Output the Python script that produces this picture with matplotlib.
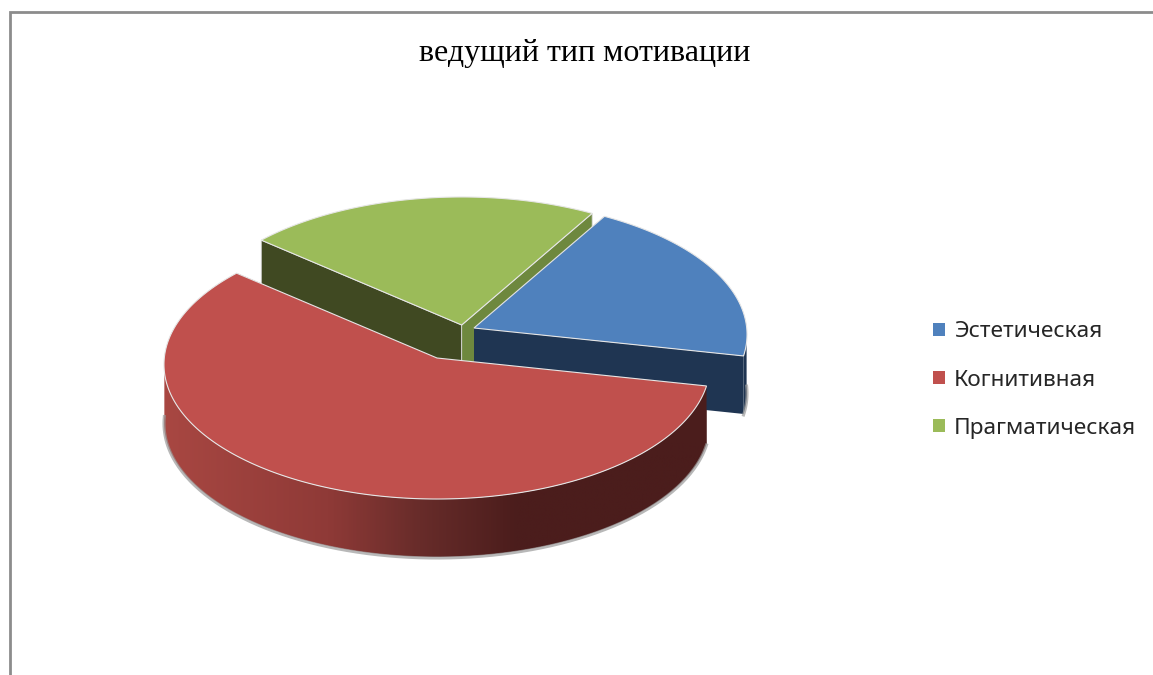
import matplotlib
matplotlib.use('Agg')
import matplotlib.pyplot as plt
from matplotlib.colors import LinearSegmentedColormap
from matplotlib.patches import Patch, Polygon
import numpy as np

title = 'ведущий тип мотивации'
categories = ['Эстетическая', 'Когнитивная', 'Прагматическая']
values = [20, 58, 22]

top_colors = ['#4F81BD', '#C0504D', '#9BBB59']
start_face_colors = ['#1F3552', '#4B1D1C', '#404922']
end_face_colors = ['#1F3552', '#4B1D1C', '#6E883E']

# where each exploded slice has its apex, in pixels
apex_x = [474, 437, 461.7]
apex_y = [328, 358, 325]
draw_order = [2, 0, 1]

start_angle = 60.1
depth = 58
rx = 272.7
ry = 134.2
persp = 0.0483


def project(angles, cx, cy):
    # circle seen in perspective, so the back of the pie comes out flatter
    t = np.radians(angles)
    w = 1 + persp * np.sin(t)
    return cx + rx * np.cos(t) / w, cy - ry * np.sin(t) / w


def draw_slice(ax, i, a_start, a_end):
    cx, cy = apex_x[i], apex_y[i]
    angles = np.linspace(a_start, a_end, 300)
    xs, ys = project(angles, cx, cy)

    # only the green slice shows a light line between its two cut faces
    face_edge = '#d8d8d8' if i == 2 else 'none'
    for px, py, col in [(xs[0], ys[0], start_face_colors[i]), (xs[-1], ys[-1], end_face_colors[i])]:
        ax.add_patch(Polygon([(cx, cy), (px, py), (px, py + depth), (cx, cy + depth)],
                             closed=True, facecolor=col, edgecolor=face_edge, lw=0.6))

    front = np.sin(np.radians(angles)) <= 0.01
    if front.any():
        rim_x, rim_y = xs[front], ys[front]
        pts = np.vstack([np.column_stack([rim_x, rim_y]),
                         np.column_stack([rim_x[::-1], rim_y[::-1] + depth])])
        ax.plot(rim_x, rim_y + depth + 1, color='#9a9a9a', lw=2.2, alpha=0.7)
        rim = Polygon(pts, closed=True, facecolor='none', edgecolor='none')
        ax.add_patch(rim)
        if i == 1:
            grad = LinearSegmentedColormap.from_list(
                'rim', [(0, '#A84742'), (0.3, '#8F3A37'), (0.47, '#682C2A'), (0.65, '#4B1D1C'), (1, '#4B1D1C')])
            im = ax.imshow(np.linspace(0, 1, 400).reshape(1, -1), cmap=grad, aspect='auto',
                           extent=(rim_x.min(), rim_x.max(), rim_y.max() + depth, rim_y.min()))
            im.set_clip_path(rim)
        else:
            rim.set_facecolor(start_face_colors[i])

    top = np.vstack([[(cx, cy)], np.column_stack([xs, ys])])
    ax.add_patch(Polygon(top, closed=True, facecolor=top_colors[i], edgecolor='#e6e6e6', lw=0.8))


fig = plt.figure(figsize=(11.53, 6.75), dpi=100)
ax = fig.add_axes([0, 0, 1, 1])

sweeps = np.array(values) / sum(values) * 360
ends = start_angle - np.cumsum(sweeps)
starts = ends + sweeps
for i in draw_order:
    draw_slice(ax, i, starts[i], ends[i])

# chart area border, only the top and left show in the crop
ax.plot([9.5, 9.5, 1153], [675, 11.5, 11.5], color='#8C8C8C', lw=2, solid_joinstyle='miter')

ax.text(585, 54, title, family='Liberation Serif', fontsize=23, color='black', ha='center', va='center')

handles = [Patch(facecolor=c, edgecolor='none') for c in top_colors]
ax.legend(handles, categories, loc='center left', bbox_to_anchor=(921.7, 380), bbox_transform=ax.transData,
          frameon=False, prop={'family': 'Noto Sans', 'size': 16.3}, labelcolor='#262626',
          handlelength=0.53, handleheight=0.53, handletextpad=0.4, labelspacing=1.2, borderpad=0, borderaxespad=0.5)

ax.set_xlim(0, 1153)
ax.set_ylim(675, 0)
ax.axis('off')

plt.savefig('out.png', dpi=100)
